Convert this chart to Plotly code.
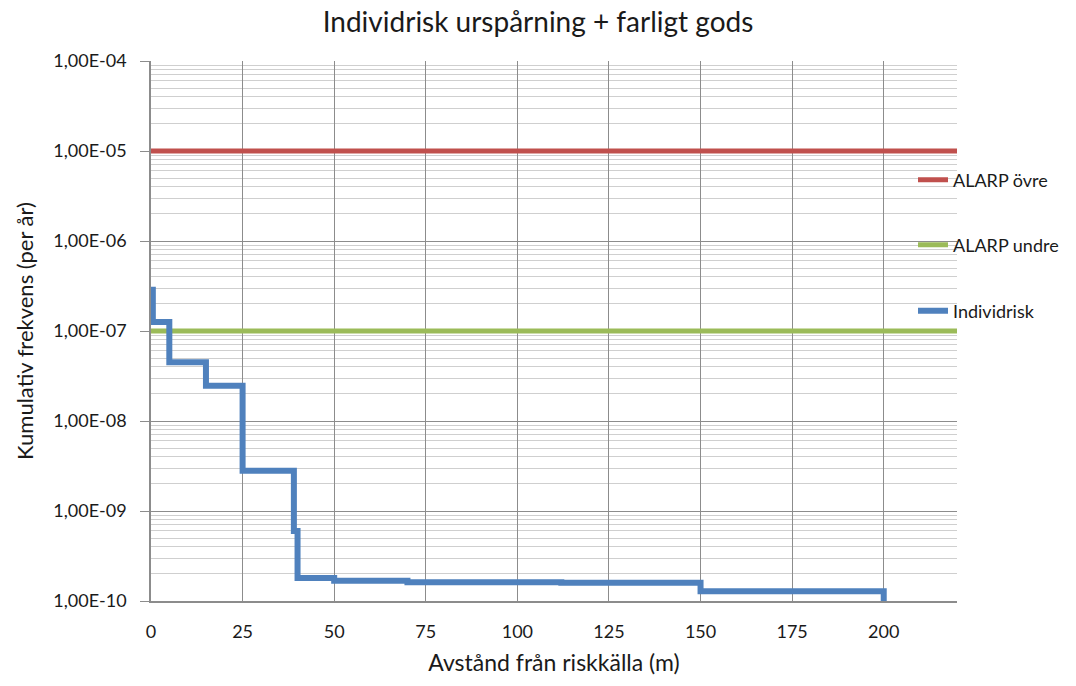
import plotly.graph_objects as go

# Data
risk_x = [0.5, 0.5, 5, 15, 25, 39, 40, 50, 70, 112, 150, 200]
risk_y = [3.1e-7, 1.26e-7, 4.5e-8, 2.47e-8, 2.8e-9, 6.0e-10, 1.8e-10, 1.68e-10,
          1.62e-10, 1.60e-10, 1.28e-10, 1.0e-10]
alarp_x = [0, 220]
alarp_upper = [1e-5, 1e-5]
alarp_lower = [1e-7, 1e-7]
y_tickvals = [1e-10, 1e-9, 1e-8, 1e-7, 1e-6, 1e-5, 1e-4]
y_ticktext = ["1,00E-10", "1,00E-09", "1,00E-08", "1,00E-07", "1,00E-06", "1,00E-05", "1,00E-04"]
x_tickvals = [0, 25, 50, 75, 100, 125, 150, 175, 200]

FONT = "Lato, 'Open Sans', sans-serif"
TXT = "#1a1a1a"
fig = go.Figure()
fig.add_trace(go.Scatter(x=alarp_x, y=alarp_upper, mode="lines", name="ALARP övre",
                         line=dict(color="#C0504D", width=5), legend="legend"))
fig.add_trace(go.Scatter(x=alarp_x, y=alarp_lower, mode="lines", name="ALARP undre",
                         line=dict(color="#9BBB59", width=5), legend="legend2"))
fig.add_trace(go.Scatter(x=risk_x, y=risk_y, mode="lines", name="Individrisk",
                         line=dict(color="#4F81BD", width=6, shape="hv"), legend="legend3"))

def leg(ypix):
    return dict(x=(913 - 151) / 806, y=(601 - ypix) / 540, xanchor="left", yanchor="middle",
                bgcolor="rgba(0,0,0,0)", font=dict(family=FONT, size=18, color=TXT))

fig.update_layout(
    width=1076, height=686,
    margin=dict(l=151, r=119, t=61, b=85),
    paper_bgcolor="white", plot_bgcolor="white",
    title=dict(text="Individrisk urspårning + farligt gods", x=0.5, xanchor="center",
               y=1 - 22 / 686, yanchor="middle", font=dict(family=FONT, size=28, color=TXT)),
    showlegend=True,
    legend=leg(180), legend2=leg(245), legend3=leg(311),
    xaxis=dict(range=[0, 220], tickvals=x_tickvals, showgrid=True, gridcolor="#8c8c8c",
               gridwidth=1, showline=True, linecolor="#8c8c8c", linewidth=1.5, zeroline=False,
               ticks="", ticklabelstandoff=14, tickfont=dict(family=FONT, size=18, color=TXT),
               title=dict(text="Avstånd från riskkälla (m)", font=dict(family=FONT, size=23, color=TXT),
                          standoff=14)),
    yaxis=dict(type="log", range=[-10, -4], tickvals=y_tickvals, ticktext=y_ticktext,
               showgrid=True, gridcolor="#8c8c8c", gridwidth=1,
               showline=True, linecolor="#8c8c8c", linewidth=1.5, zeroline=False,
               ticks="outside", ticklen=9, tickcolor="#8c8c8c", ticklabelstandoff=10,
               minor=dict(showgrid=True, gridcolor="#cfcfcf", gridwidth=1, dtick="D1"),
               tickfont=dict(family=FONT, size=18, color=TXT),
               title=dict(text="Kumulativ frekvens (per år)", font=dict(family=FONT, size=22, color=TXT),
                          standoff=14)),
)
fig.write_html("out.html")
